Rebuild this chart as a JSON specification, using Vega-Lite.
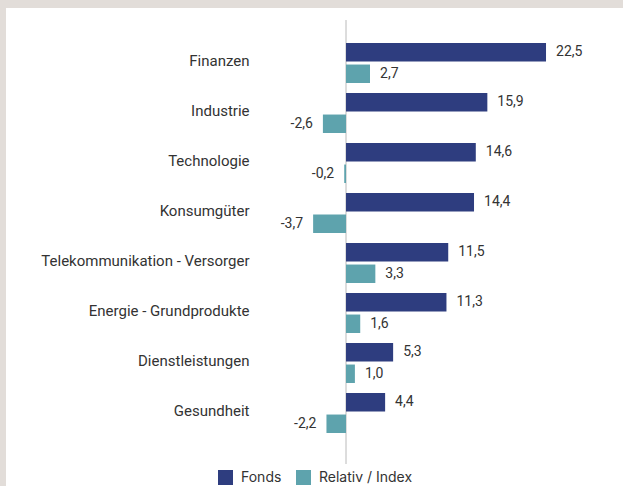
{
  "$schema": "https://vega.github.io/schema/vega-lite/v6.json",
  "width": 617,
  "height": 478,
  "autosize": {"type": "none"},
  "padding": {"left": 6, "top": 8, "right": 0, "bottom": 0},
  "background": "#e2ddd9",
  "config": {
    "view": {"fill": "white", "stroke": null},
    "font": "Roboto",
    "locale": {"number": {"decimal": ",", "thousands": ".", "grouping": [3], "currency": ["", " €"], "minus": "-"}}
  },
  "data": {
    "values": [
      {"Sektor": "Finanzen", "Serie": "Fonds", "Wert": 22.5},
      {"Sektor": "Finanzen", "Serie": "Relativ / Index", "Wert": 2.7},
      {"Sektor": "Industrie", "Serie": "Fonds", "Wert": 15.9},
      {"Sektor": "Industrie", "Serie": "Relativ / Index", "Wert": -2.6},
      {"Sektor": "Technologie", "Serie": "Fonds", "Wert": 14.6},
      {"Sektor": "Technologie", "Serie": "Relativ / Index", "Wert": -0.2},
      {"Sektor": "Konsumgüter", "Serie": "Fonds", "Wert": 14.4},
      {"Sektor": "Konsumgüter", "Serie": "Relativ / Index", "Wert": -3.7},
      {"Sektor": "Telekommunikation - Versorger", "Serie": "Fonds", "Wert": 11.5},
      {"Sektor": "Telekommunikation - Versorger", "Serie": "Relativ / Index", "Wert": 3.3},
      {"Sektor": "Energie - Grundprodukte", "Serie": "Fonds", "Wert": 11.3},
      {"Sektor": "Energie - Grundprodukte", "Serie": "Relativ / Index", "Wert": 1.6},
      {"Sektor": "Dienstleistungen", "Serie": "Fonds", "Wert": 5.3},
      {"Sektor": "Dienstleistungen", "Serie": "Relativ / Index", "Wert": 1.0},
      {"Sektor": "Gesundheit", "Serie": "Fonds", "Wert": 4.4},
      {"Sektor": "Gesundheit", "Serie": "Relativ / Index", "Wert": -2.2}
    ]
  },
  "encoding": {
    "y": {
      "field": "Sektor", "type": "nominal", "sort": null,
      "scale": {
        "domain": ["Finanzen", "Industrie", "Technologie", "Konsumgüter", "Telekommunikation - Versorger", "Energie - Grundprodukte", "Dienstleistungen", "Gesundheit"],
        "paddingInner": 0, "paddingOuter": 0.78, "align": 0.385
      },
      "axis": {"title": null, "domain": false, "ticks": false, "labelPadding": 0, "offset": -243, "labelFontSize": 15, "labelColor": "#333333", "labelFont": "Roboto", "labelOffset": -2, "labelLimit": 400}
    },
    "yOffset": {
      "field": "Serie", "type": "nominal",
      "scale": {"domain": ["Fonds", "Relativ / Index"], "paddingInner": 0.14, "paddingOuter": 0.233}
    },
    "x": {
      "field": "Wert", "type": "quantitative",
      "scale": {"domain": [-38.25, 31.16], "nice": false, "zero": false},
      "axis": null
    }
  },
  "layer": [
    {
      "mark": {"type": "rule", "color": "#dcdcdc", "strokeWidth": 1, "yOffset": -43, "y2Offset": 51},
      "encoding": {
        "x": {"datum": 0, "type": "quantitative"},
        "y": {"datum": "Finanzen", "type": "nominal"},
        "y2": {"datum": "Gesundheit"},
        "yOffset": null
      }
    },
    {
      "mark": {"type": "bar"},
      "encoding": {
        "color": {
          "field": "Serie", "type": "nominal",
          "scale": {"domain": ["Fonds", "Relativ / Index"], "range": ["#2e3d7f", "#5ea3ad"]},
          "legend": {
            "title": null, "orient": "none", "direction": "horizontal",
            "legendX": 212, "legendY": 462,
            "symbolType": "square", "symbolSize": 225, "symbolStrokeWidth": 0,
            "labelFontSize": 14, "labelColor": "#333333", "labelFont": "Inter",
            "labelOffset": 8, "columnPadding": 14
          }
        }
      }
    },
    {
      "transform": [{"filter": "datum.Wert >= 0"}],
      "mark": {"type": "text", "align": "left", "dx": 10, "fontSize": 14, "color": "#333333"},
      "encoding": {"text": {"field": "Wert", "type": "quantitative", "format": ".1f"}}
    },
    {
      "transform": [{"filter": "datum.Wert < 0"}],
      "mark": {"type": "text", "align": "right", "dx": -10, "fontSize": 14, "color": "#333333"},
      "encoding": {"text": {"field": "Wert", "type": "quantitative", "format": ".1f"}}
    }
  ]
}
